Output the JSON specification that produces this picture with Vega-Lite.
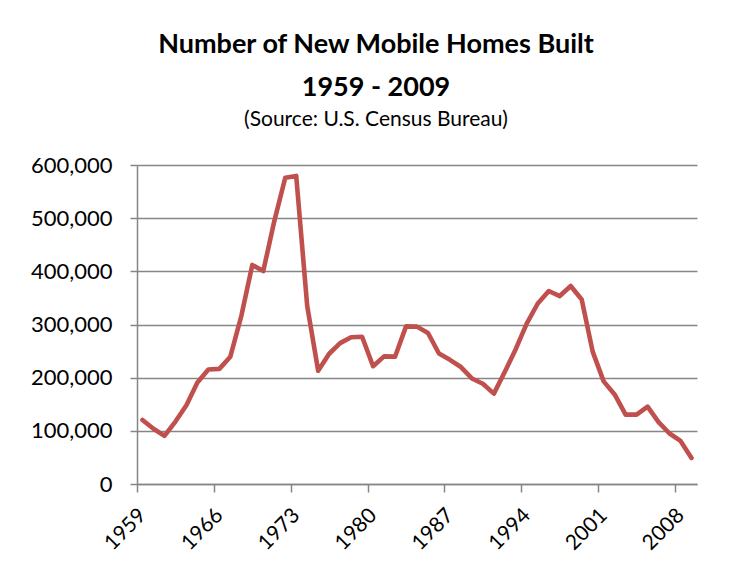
{
  "$schema": "https://vega.github.io/schema/vega-lite/v6.json",
  "autosize": {"type": "none"},
  "padding": {"left": 137, "top": 165, "right": 37, "bottom": 92},
  "width": 560,
  "height": 319,
  "background": "white",
  "config": {"view": {"stroke": null}, "font": "Lato"},
  "title": {
    "text": ["Number of New Mobile Homes Built", "1959 - 2009"],
    "subtitle": "(Source: U.S. Census Bureau)",
    "anchor": "middle",
    "frame": "group",
    "dx": -41,
    "offset": 23,
    "font": "Lato",
    "fontSize": 27,
    "fontWeight": "bold",
    "lineHeight": 43,
    "color": "#000000",
    "subtitleFont": "Lato",
    "subtitleFontSize": 21,
    "subtitleColor": "#000000",
    "subtitlePadding": 7
  },
  "data": {
    "values": [
      {"year": 1959, "homes": 120500},
      {"year": 1960, "homes": 104000},
      {"year": 1961, "homes": 90500},
      {"year": 1962, "homes": 117500},
      {"year": 1963, "homes": 148000},
      {"year": 1964, "homes": 191000},
      {"year": 1965, "homes": 215500},
      {"year": 1966, "homes": 216500},
      {"year": 1967, "homes": 239500},
      {"year": 1968, "homes": 316000},
      {"year": 1969, "homes": 412000},
      {"year": 1970, "homes": 400500},
      {"year": 1971, "homes": 494000},
      {"year": 1972, "homes": 576000},
      {"year": 1973, "homes": 579500},
      {"year": 1974, "homes": 335000},
      {"year": 1975, "homes": 213000},
      {"year": 1976, "homes": 245000},
      {"year": 1977, "homes": 265000},
      {"year": 1978, "homes": 276000},
      {"year": 1979, "homes": 277000},
      {"year": 1980, "homes": 221500},
      {"year": 1981, "homes": 240000},
      {"year": 1982, "homes": 239500},
      {"year": 1983, "homes": 296500},
      {"year": 1984, "homes": 296000},
      {"year": 1985, "homes": 284000},
      {"year": 1986, "homes": 245500},
      {"year": 1987, "homes": 233500},
      {"year": 1988, "homes": 220000},
      {"year": 1989, "homes": 198500},
      {"year": 1990, "homes": 188500},
      {"year": 1991, "homes": 170000},
      {"year": 1992, "homes": 211000},
      {"year": 1993, "homes": 254000},
      {"year": 1994, "homes": 302000},
      {"year": 1995, "homes": 339500},
      {"year": 1996, "homes": 363000},
      {"year": 1997, "homes": 353500},
      {"year": 1998, "homes": 372500},
      {"year": 1999, "homes": 347000},
      {"year": 2000, "homes": 249000},
      {"year": 2001, "homes": 193000},
      {"year": 2002, "homes": 168500},
      {"year": 2003, "homes": 130500},
      {"year": 2004, "homes": 130500},
      {"year": 2005, "homes": 145500},
      {"year": 2006, "homes": 116500},
      {"year": 2007, "homes": 95000},
      {"year": 2008, "homes": 81000},
      {"year": 2009, "homes": 49000}
    ]
  },
  "mark": {"type": "line", "color": "#C0504D", "strokeWidth": 4.6, "strokeJoin": "round", "strokeCap": "round"},
  "encoding": {
    "x": {
      "field": "year",
      "type": "quantitative",
      "scale": {"domain": [1958.5, 2009.5], "nice": false, "zero": false},
      "axis": {
        "title": null,
        "values": [1959, 1966, 1973, 1980, 1987, 1994, 2001, 2008],
        "format": "d",
        "grid": false,
        "tickOffset": -5.49,
        "labelOffset": 5.49,
        "tickSize": 8,
        "tickColor": "#868686",
        "tickWidth": 1.5,
        "domainColor": "#868686",
        "domainWidth": 1.5,
        "labelAngle": -45,
        "labelAlign": "right",
        "labelBaseline": "middle",
        "labelPadding": 20,
        "labelFont": "Lato",
        "labelFontSize": 21,
        "labelColor": "#000000",
        "labelFlush": false,
        "labelOverlap": false
      }
    },
    "y": {
      "field": "homes",
      "type": "quantitative",
      "scale": {"domain": [0, 600000], "nice": false},
      "axis": {
        "title": null,
        "values": [0, 100000, 200000, 300000, 400000, 500000, 600000],
        "format": ",d",
        "grid": true,
        "gridColor": "#868686",
        "gridWidth": 1.5,
        "tickSize": 7,
        "tickColor": "#868686",
        "tickWidth": 1.5,
        "domainColor": "#868686",
        "domainWidth": 1.5,
        "labelPadding": 18,
        "labelFont": "Lato",
        "labelFontSize": 22,
        "labelColor": "#000000",
        "labelFlush": false,
        "labelOverlap": false
      }
    }
  }
}
